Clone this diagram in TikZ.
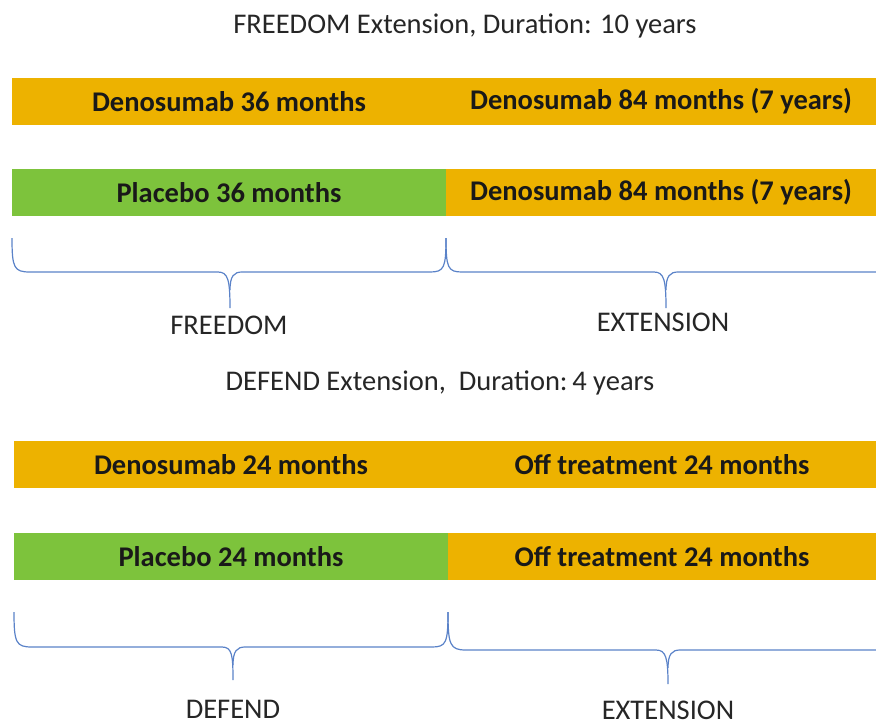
\documentclass[tikz,border=0pt]{standalone}
\usepackage{fontspec}
\setmainfont{Carlito}
\definecolor{gold}{RGB}{237,178,0}
\definecolor{grn}{RGB}{125,195,60}
\definecolor{brc}{RGB}{90,130,200}
\begin{document}
\begin{tikzpicture}[x=1pt,y=-1pt,
  bar/.style={rectangle,inner sep=0pt,minimum height=47pt,font=\fontsize{28.5}{32}\selectfont\bfseries,text=black!90},
  goldbar/.style={bar,fill=gold},
  greenbar/.style={bar,fill=grn},
  ttl/.style={font=\fontsize{28.5}{32}\selectfont,text=black!85},
  lbl/.style={font=\fontsize{28.5}{32}\selectfont,text=black!85,inner sep=1pt},
  brace/.style={draw=brc,line width=1.2pt}]
\useasboundingbox (0,0) rectangle (876,726);
% FREEDOM
\node[ttl] (t1) at (465,26) {FREEDOM Extension, Duration: 10 years};
\node[goldbar,minimum width=434pt] (a1) at (229,101.5) {Denosumab 36 months};
\node[goldbar,minimum width=430pt] (a2) at (661,101.5) {Denosumab 84 months (7 years)};
\node[greenbar,minimum width=434pt] (b1) at (229,192.5) {Placebo 36 months};
\node[goldbar,minimum width=430pt] (b2) at (661,192.5) {Denosumab 84 months (7 years)};
\draw[brace] (12,238) .. controls (12,268) and (14,272) .. (30,272) -- (218,272)
  .. controls (228,272) and (230,280) .. (230,308);
\draw[brace] (230,290) .. controls (230,276) and (234,272) .. (242,272) -- (430,272)
  .. controls (444,272) and (446,268) .. (446,238);
\draw[brace] (446,238) .. controls (446,268) and (448,272) .. (462,272) -- (654,272)
  .. controls (664,272) and (666,280) .. (666,308);
\draw[brace] (666,290) .. controls (666,276) and (670,272) .. (678,272) -- (876,272);
\node[lbl] (l1) at (229,325) {FREEDOM};
\node[lbl] (l2) at (663,322) {EXTENSION};
% DEFEND
\node[ttl] (t2) at (440,383) {DEFEND Extension,\ \ Duration:\,4 years};
\node[goldbar,minimum width=434pt] (c1) at (231,464.5) {Denosumab 24 months};
\node[goldbar,minimum width=428pt] (c2) at (662,464.5) {Off treatment 24 months};
\node[greenbar,minimum width=434pt] (d1) at (231,556.5) {Placebo 24 months};
\node[goldbar,minimum width=428pt] (d2) at (662,556.5) {Off treatment 24 months};
\draw[brace] (14,612) .. controls (14,643) and (16,647) .. (32,647) -- (222,647)
  .. controls (232,647) and (233,655) .. (233,680);
\draw[brace] (233,665) .. controls (233,651) and (237,647) .. (245,647) -- (432,647)
  .. controls (446,647) and (448,643) .. (448,612);
\draw[brace] (448,612) .. controls (448,645) and (450,650) .. (466,650) -- (656,650)
  .. controls (666,650) and (668,658) .. (668,684);
\draw[brace] (668,668) .. controls (668,654) and (672,650) .. (680,650) -- (876,650);
\node[lbl] (l3) at (233,709) {DEFEND};
\node[lbl] (l4) at (668,710) {EXTENSION};
\end{tikzpicture}
\end{document}
